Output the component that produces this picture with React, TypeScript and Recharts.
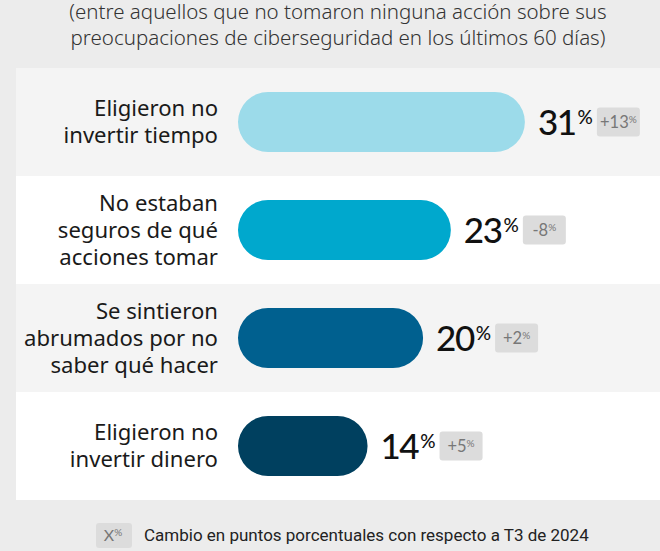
import React from "react";
import { BarChart, Bar, XAxis, YAxis, Cell, LabelList } from "recharts";

const categories = [
  "Eligieron no\ninvertir tiempo",
  "No estaban\nseguros de qué\nacciones tomar",
  "Se sintieron\nabrumados por no\nsaber qué hacer",
  "Eligieron no\ninvertir dinero",
];
const values = [31, 23, 20, 14];
const changes = ["+13", "-8", "+2", "+5"];
const colors = ["#9cdbea", "#00a8cd", "#00608f", "#00405f"];
const titleLines = [
  "(entre aquellos que no tomaron ninguna acción sobre sus",
  "preocupaciones de ciberseguridad en los últimos 60 días)",
];
const legendText = "Cambio en puntos porcentuales con respecto a T3 de 2024";

const data = categories.map((c, i) => ({ cat: c, value: values[i], change: changes[i] }));

const FONT = "'Noto Sans', Lato, sans-serif";
const NUMFONT = "Lato, 'Noto Sans', sans-serif";

const CategoryTick = (props: any) => {
  const { x, y, payload } = props;
  const lines = String(payload.value).split("\n");
  const lh = 27;
  const start = y - ((lines.length - 1) * lh) / 2;
  return (
    <text x={x} y={start} textAnchor="end" fontSize={22.1} fontFamily={FONT} fill="#1a1a1a">
      {lines.map((l, i) => (
        <tspan key={i} x={x} y={start + i * lh} dy="0.36em">
          {l}
        </tspan>
      ))}
    </text>
  );
};

const ValueLabel = (props: any) => {
  const { x, y, width, height, value, index } = props;
  const end = x + width;
  const cy = y + height / 2;
  const ch = changes[index];
  return (
    <g>
      <text x={end + 13} y={cy + 12.5} fontFamily={NUMFONT} fontWeight={500} fill="#111">
        <tspan fontSize={35} letterSpacing={-1.5}>{value}</tspan>
        <tspan fontSize={19} dx={2} dy={-11}>%</tspan>
      </text>
      <rect x={end + 72} y={cy - 14.5} width={43} height={29} rx={3} fill="#dcdcdc" />
      <text x={end + 93.5} y={cy + 6} textAnchor="middle" fontSize={16.5} fontFamily={NUMFONT} fill="#777">
        <tspan>{ch}</tspan>
        <tspan fontSize={10} dy={-5}>%</tspan>
      </text>
    </g>
  );
};

export default function App() {
  return (
    <div
      style={{
        position: "fixed",
        left: 0,
        top: 0,
        width: 660,
        height: 551,
        background: "#ececec",
        overflow: "hidden",
      }}
    >
      {categories.map((_, i) => (
        <div
          key={i}
          style={{
            position: "absolute",
            left: 16,
            top: 68 + i * 108,
            width: 644,
            height: 108,
            background: i % 2 === 0 ? "#f4f4f4" : "#ffffff",
          }}
        />
      ))}
      <svg width={660} height={551} style={{ position: "absolute", left: 0, top: 0 }}>
        {titleLines.map((t, i) => (
          <text
            key={i}
            x={338}
            y={19 + i * 26}
            textAnchor="middle"
            fontSize={20.5}
            fontFamily={FONT}
            fontWeight={300}
            fill="#333"
          >
            {t}
          </text>
        ))}
        <rect x={96} y={523} width={36} height={25} rx={3} fill="#dcdcdc" />
        <text x={113} y={541} textAnchor="middle" fontSize={16} fontFamily={NUMFONT} fill="#777">
          <tspan>X</tspan>
          <tspan fontSize={10} dy={-5}>%</tspan>
        </text>
        <text x={144} y={541} fontSize={17} fontFamily="Roboto, sans-serif" fill="#222">
          {legendText}
        </text>
      </svg>
      <div style={{ position: "absolute", left: 0, top: 0 }}>
        <BarChart
          width={660}
          height={551}
          data={data}
          layout="vertical"
          margin={{ top: 68, right: 0, bottom: 51, left: 0 }}
        >
          <XAxis type="number" domain={[0, 45.6]} hide />
          <YAxis
            type="category"
            dataKey="cat"
            width={238}
            axisLine={false}
            tickLine={false}
            tickSize={0}
            tickMargin={20}
            tick={<CategoryTick />}
            interval={0}
          />
          <Bar dataKey="value" barSize={60} radius={30} isAnimationActive={false}>
            {data.map((_, i) => (
              <Cell key={i} fill={colors[i]} />
            ))}
            <LabelList dataKey="value" content={<ValueLabel />} />
          </Bar>
        </BarChart>
      </div>
    </div>
  );
}
